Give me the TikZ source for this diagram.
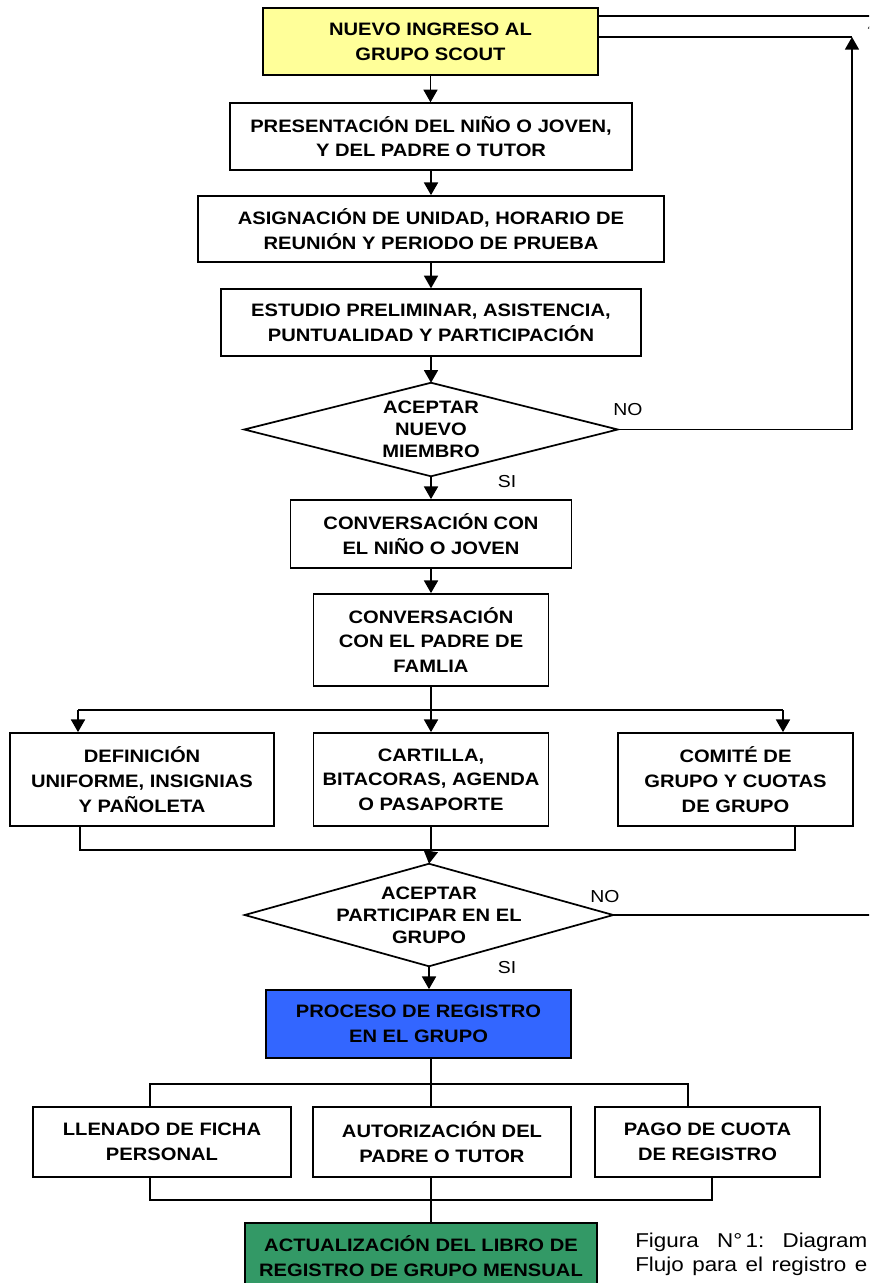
\documentclass[tikz,border=0pt]{standalone}
\usepackage{fontspec}
\setmainfont{Liberation Sans}[FakeStretch=1.12]
\usetikzlibrary{arrows.meta}
\definecolor{yel}{HTML}{FFFF99}
\definecolor{blu}{HTML}{3366FF}
\definecolor{grn}{HTML}{339966}
\begin{document}
\begin{tikzpicture}[x=0.75pt,y=-0.75pt,
  box/.style={draw, line width=1.3pt, align=center, inner sep=0pt,
    font=\fontsize{13.5}{18.5}\selectfont\bfseries},
  dtext/.style={align=center, inner sep=0pt,
    font=\fontsize{13.5}{16.5}\selectfont\bfseries},
  dshape/.style={draw, line width=1.3pt},
  lbl/.style={font=\fontsize{13}{14}\selectfont, inner sep=0pt},
  conn/.style={line width=1.3pt},
  arr/.style={line width=1.3pt, -{Triangle[width=10.5pt,length=9.5pt]}}]
\useasboundingbox (0,0) rectangle (869,1283);
\clip (0,0) rectangle (869,1283);

% boxes
\node[box, fill=yel, minimum width=251pt, minimum height=50pt] (n1) at (430.5,41.5) {NUEVO INGRESO AL\\GRUPO SCOUT};
\node[box, minimum width=301.5pt, minimum height=50pt] (n2) at (431,136.5) {PRESENTACIÓN DEL NIÑO O JOVEN,\\Y DEL PADRE O TUTOR};
\node[box, minimum width=350pt, minimum height=49.5pt] (n3) at (431,229) {ASIGNACIÓN DE UNIDAD, HORARIO DE\\REUNIÓN Y PERIODO DE PRUEBA};
\node[box, minimum width=315pt, minimum height=50pt] (n4) at (431,322.5) {ESTUDIO PRELIMINAR, ASISTENCIA,\\PUNTUALIDAD Y PARTICIPACIÓN};

\node[dtext, minimum width=279.75pt, minimum height=69.75pt] (d1) at (431,429.5) {ACEPTAR\\NUEVO\\MIEMBRO};
\draw[dshape] (d1.north) -- (d1.east) -- (d1.south) -- (d1.west) -- cycle;

\node[box, minimum width=210.75pt, minimum height=51pt] (n5) at (431,534) {CONVERSACIÓN CON\\EL NIÑO O JOVEN};
\node[box, minimum width=176.25pt, minimum height=69pt] (n6) at (431,640) {CONVERSACIÓN\\CON EL PADRE DE\\FAMLIA};

\node[box, minimum width=198pt, minimum height=69.75pt] (n7) at (142,779.5) {DEFINICIÓN\\UNIFORME, INSIGNIAS\\Y PAÑOLETA};
\node[box, minimum width=176.25pt, minimum height=69.75pt] (n8) at (431,779.5) {CARTILLA,\\BITACORAS, AGENDA\\O PASAPORTE};
\node[box, minimum width=176.25pt, minimum height=69.75pt] (n9) at (735.5,779.5) {COMITÉ DE\\GRUPO Y CUOTAS\\DE GRUPO};

\node[dtext, minimum width=276pt, minimum height=76.5pt] (d2) at (429,915) {ACEPTAR\\PARTICIPAR EN EL\\GRUPO};
\draw[dshape] (d2.north) -- (d2.east) -- (d2.south) -- (d2.west) -- cycle;

\node[box, fill=blu, minimum width=228.75pt, minimum height=51pt] (n10) at (418.5,1024) {PROCESO DE REGISTRO\\EN EL GRUPO};

\node[box, minimum width=193.5pt, minimum height=52.5pt] (n11) at (162,1142) {LLENADO DE FICHA\\PERSONAL};
\node[box, minimum width=193.5pt, minimum height=52.5pt] (n12) at (442,1142) {AUTORIZACIÓN DEL\\PADRE O TUTOR};
\node[box, minimum width=168.75pt, minimum height=52.5pt] (n13) at (707.5,1142) {PAGO DE CUOTA\\DE REGISTRO};

\node[box, fill=grn, minimum width=264pt, minimum height=50pt] (n14) at (421,1256) {ACTUALIZACIÓN DEL LIBRO DE\\REGISTRO DE GRUPO MENSUAL};

% labels
\node[lbl] (no1) at (628,410) {NO};
\node[lbl] (si1) at (507,482) {SI};
\node[lbl] (no2) at (605,897) {NO};
\node[lbl] (si2) at (507,968) {SI};

\node[anchor=north west, align=left, inner sep=0pt,
  font=\fontsize{15}{18}\selectfont] (cap) at (635,1233)
  {\hbox to 174pt{Figura\hskip 4pt plus 1fil N°\,1:\hskip 4pt plus 1fil Diagram}\\
   \hbox to 174pt{Flujo\hskip 3pt plus 1fil para\hskip 3pt plus 1fil el\hskip 3pt plus 1fil registro\hskip 3pt plus 1fil e}};

% main flow
\draw[arr] (n1.south) -- (n1.south |- n2.north);
\draw[arr] (n2) -- (n3);
\draw[arr] (n3) -- (n4);
\draw[arr] (n4) -- (d1);
\draw[arr] (d1) -- (n5);
\draw[arr] (n5) -- (n6);

% NO loops
\coordinate (r1) at (852,37);
\coordinate (r2) at (875,16);
\draw[conn] (n1.east |- r1) -- (r1);
\draw[arr] (d1.east) -| (r1);
\draw[conn] (n1.east |- r2) -- (r2);
\draw[arr] (d2.east) -| (r2);

% first branch
\coordinate (b0) at (431,710);
\coordinate (bl) at (78,710);
\coordinate (br) at (783,710);
\draw[conn] (n6.south) -- (b0);
\draw[conn] (bl) -- (br);
\draw[arr] (bl) -- (bl |- n7.north);
\draw[arr] (b0) -- (n8.north);
\draw[arr] (br) -- (br |- n9.north);

% first join
\coordinate (j0) at (431,850);
\coordinate (jl) at (80,850);
\coordinate (jr) at (795,850);
\draw[conn] (jl |- n7.south) -- (jl) -- (jr) -- (jr |- n9.south);
\draw[conn] (n8.south) -- (j0);
\draw[arr] (j0) -- (d2.north);

\draw[arr] (d2.south) -- (d2.south |- n10.north);

% second branch
\coordinate (c0) at (431,1084);
\coordinate (cl) at (150,1084);
\coordinate (cr) at (688,1084);
\draw[conn] (n10.south -| c0) -- (c0);
\draw[conn] (cl |- n11.north) -- (cl) -- (cr) -- (cr |- n13.north);
\draw[conn] (c0) -- (c0 |- n12.north);

% second join
\coordinate (k0) at (431,1200);
\coordinate (kl) at (150,1200);
\coordinate (kr) at (712,1200);
\draw[conn] (kl |- n11.south) -- (kl) -- (kr) -- (kr |- n13.south);
\draw[conn] (k0 |- n12.south) -- (k0) -- (k0 |- n14.north);
\end{tikzpicture}
\end{document}
